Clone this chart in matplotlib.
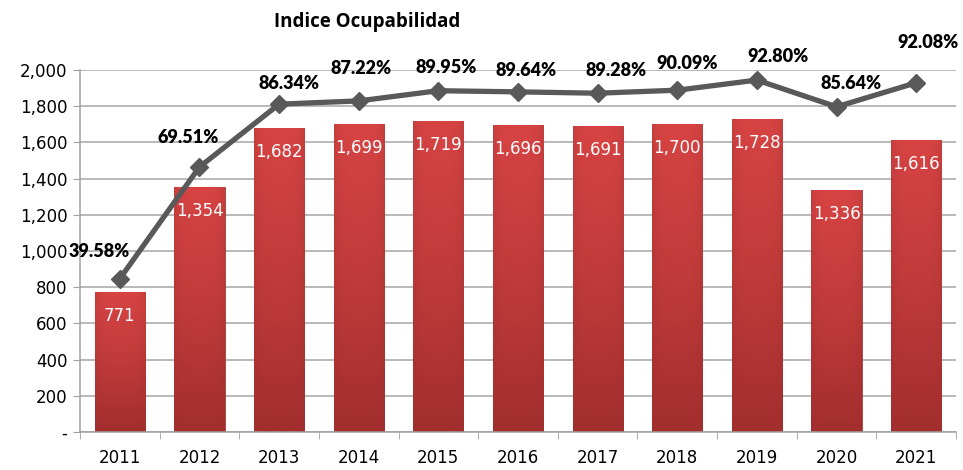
import numpy as np
import matplotlib
matplotlib.use('Agg')
import matplotlib.pyplot as plt
from matplotlib.colors import LinearSegmentedColormap

# data
years = ['2011', '2012', '2013', '2014', '2015', '2016', '2017', '2018', '2019', '2020', '2021']
ocupados = [771, 1354, 1682, 1699, 1719, 1696, 1691, 1700, 1728, 1336, 1616]
indice = [39.58, 69.51, 86.34, 87.22, 89.95, 89.64, 89.28, 90.09, 92.80, 85.64, 92.08]
y_ticks = [0, 200, 400, 600, 800, 1000, 1200, 1400, 1600, 1800, 2000]

# label offsets (pixels) for the percentage labels, as placed in the original
pct_offsets = [(-21, 27), (-11, 29), (10, 21), (2, 32), (8, 23), (8, 21),
               (18, 23), (10, 27), (21, 24), (15, 23), (12, 40)]

plt.rcParams['font.family'] = ['DejaVu Sans']

fig = plt.figure(figsize=(9.63, 4.70), dpi=100)
ax = fig.add_axes([80 / 963, 38 / 470, 876 / 963, 362 / 470])

x = np.arange(len(years))
bars = ax.bar(x, ocupados, width=0.63, color='#c53b3b', zorder=2)

# gradient fill for the bars (lighter top, darker bottom, darker edges)
grad = LinearSegmentedColormap.from_list('redgrad', ['#a32e2e', '#c03b3b', '#d74343'])
vert = np.linspace(0, 1, 100).reshape(-1, 1)
horiz = 1 - 0.35 * np.abs(np.linspace(-1, 1, 60)) ** 4
img = vert * horiz
for b in bars:
    bx, bw, bh = b.get_x(), b.get_width(), b.get_height()
    b.set_facecolor('none')
    b.set_edgecolor('#9a2a2a')
    b.set_linewidth(0.6)
    im = ax.imshow(img, cmap=grad, extent=[bx, bx + bw, 0, bh], origin='lower',
                   aspect='auto', zorder=2, vmin=0, vmax=1)
    im.set_clip_path(b)

for xi, v in zip(x, ocupados):
    ax.annotate(f'{v:,}', (xi, v), xytext=(0, -24), textcoords='offset pixels',
                ha='center', va='center', color='white', fontsize=12, zorder=4)

ax.set_xlim(-0.5, len(years) - 0.5)
ax.set_ylim(0, 2000)
ax.set_yticks(y_ticks)
ax.set_yticklabels(['-' if t == 0 else f'{t:,}' for t in y_ticks], fontsize=12)
ax.set_xticks(x)
ax.set_xticklabels(years, fontsize=12)
ax.set_xticks(np.arange(-0.5, len(years)), minor=True)
ax.tick_params(axis='x', which='major', length=0, pad=12)
ax.tick_params(axis='x', which='minor', length=5, color='#a0a0a0', direction='out')
ax.tick_params(axis='y', length=5, color='#a0a0a0', pad=4)
ax.grid(axis='y', color='#a6a6a6', linewidth=1.1, zorder=0)
ax.set_axisbelow(True)
for s in ['top', 'right']:
    ax.spines[s].set_visible(False)
for s in ['left', 'bottom']:
    ax.spines[s].set_color('#a0a0a0')
    ax.spines[s].set_linewidth(1.1)

# secondary (hidden) axis for the percentage line
ax2 = ax.twinx()
ax2.set_ylim(-1.5, 95.5)
ax2.axis('off')
ax2.plot(x, indice, color='#595959', linewidth=3.8, marker='D', markersize=9.5,
         zorder=5, solid_capstyle='round')
for xi, p, (dx, dy) in zip(x, indice, pct_offsets):
    ax2.annotate(f'{p:.2f}%', (xi, p), xytext=(dx, dy), textcoords='offset pixels',
                 ha='center', va='center', fontsize=13, fontweight='heavy', color='black',
                 fontfamily='Lato')

fig.text(367 / 963, 1 - 22 / 470, 'Indice Ocupabilidad', ha='center', va='center',
         fontsize=13.5, fontweight='bold', fontfamily='Open Sans')

fig.savefig('out.png', dpi=100)
